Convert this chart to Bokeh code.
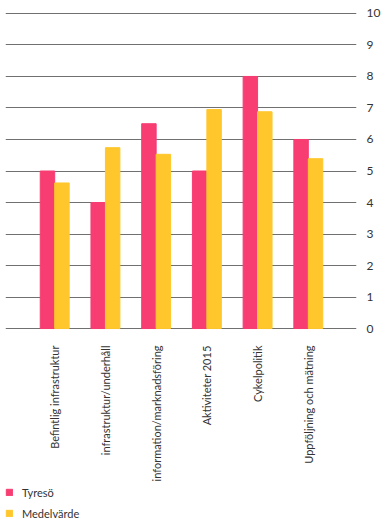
from bokeh.plotting import figure
from bokeh.layouts import column
from bokeh.models import Range1d, FixedTicker, ColumnDataSource, Legend, LegendItem
from bokeh.embed import file_html
from bokeh.resources import INLINE
import math

categories = ["Befintlig infrastruktur", "infrastruktur/underhåll", "information/marknadsföring",
              "Aktiviteter 2015", "Cykelpolitik", "Uppföljning och mätning"]
series_names = ["Tyresö", "Medelvärde"]
tyreso = [5, 4, 6.5, 5, 8, 6]
medel = [4.62, 5.74, 5.53, 6.95, 6.88, 5.39]
y_ticks = [0, 1, 2, 3, 4, 5, 6, 7, 8, 9, 10]

PINK = "#F73D72"
YELLOW = "#FFC72C"
FONT = "Lato"
TEXT = "#333333"

idx = list(range(len(categories)))
src = ColumnDataSource(dict(
    xp=[i - 0.1425 for i in idx], xy=[i + 0.1425 for i in idx],
    t=tyreso, m=medel))

p = figure(width=383, height=486, output_backend="svg", toolbar_location=None,
           x_range=Range1d(-0.97, 5.95), y_range=Range1d(-0.03, 10.03),
           y_axis_location="right", min_border_left=5, min_border_top=12,
           min_border_right=0, min_border_bottom=157)
p.outline_line_color = None
p.background_fill_color = "white"
p.border_fill_color = "white"

p.vbar(x="xp", top="t", width=0.285, source=src, color=PINK)
p.vbar(x="xy", top="m", width=0.285, source=src, color=YELLOW)

p.xgrid.visible = False
p.ygrid.ticker = FixedTicker(ticks=y_ticks)
p.ygrid.grid_line_color = "#707070"
p.ygrid.grid_line_width = 1
p.ygrid.level = "underlay"

ya = p.yaxis[0]
ya.ticker = FixedTicker(ticks=y_ticks)
ya.axis_line_color = None
ya.major_tick_line_color = None
ya.minor_tick_line_color = None
ya.major_label_standoff = 4
ya.major_label_text_font = FONT
ya.major_label_text_font_size = "12px"
ya.major_label_text_color = TEXT

xa = p.xaxis[0]
xa.ticker = FixedTicker(ticks=idx)
xa.major_label_overrides = {i: c for i, c in zip(idx, categories)}
xa.major_label_orientation = math.pi / 2
xa.axis_line_color = None
xa.major_tick_line_color = None
xa.minor_tick_line_color = None
xa.major_label_standoff = 10
xa.major_label_text_font = FONT
xa.major_label_text_font_size = "11px"
xa.major_label_text_color = TEXT

# legend strip
lg = figure(width=383, height=37, output_backend="svg", toolbar_location=None,
            x_range=Range1d(0, 1), y_range=Range1d(0, 1),
            min_border=0, min_border_left=0, min_border_right=0,
            min_border_top=0, min_border_bottom=0)
lg.axis.visible = False
lg.grid.visible = False
lg.outline_line_color = None
offscreen = ColumnDataSource(dict(x=[-10], top=[-10]))
l1 = lg.vbar(x="x", top="top", width=0.1, source=offscreen, color=PINK)
l2 = lg.vbar(x="x", top="top", width=0.1, source=offscreen, color=YELLOW)

legend = Legend(items=[LegendItem(label=series_names[0], renderers=[l1], index=0),
                       LegendItem(label=series_names[1], renderers=[l2], index=0)],
                orientation="vertical")
legend.border_line_color = None
legend.background_fill_alpha = 0
legend.label_text_font = FONT
legend.label_text_font_size = "11px"
legend.label_text_color = TEXT
legend.glyph_width = 8
legend.glyph_height = 8
legend.label_standoff = 9
legend.spacing = 7
legend.padding = 0
legend.margin = 0
legend.label_height = 14
legend.label_text_baseline = "middle"
legend.location = (0, 3)
lg.add_layout(legend)

layout = column(p, lg, spacing=0)
open("out.html", "w").write(file_html(layout, INLINE))
